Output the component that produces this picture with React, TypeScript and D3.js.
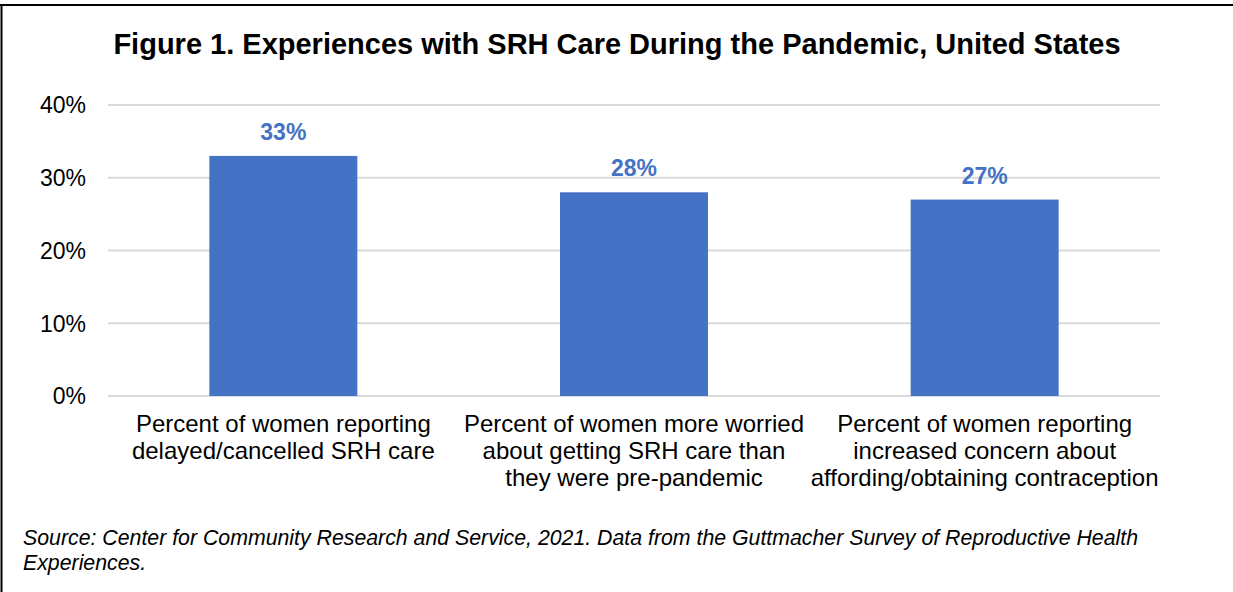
import React from 'react';
import * as d3 from 'd3';

// chart data
const categories = ['delayed', 'worried', 'contraception'];
const categoryLines = [
  ['Percent of women reporting', 'delayed/cancelled SRH care'],
  ['Percent of women more worried', 'about getting SRH care than', 'they were pre-pandemic'],
  ['Percent of women reporting', 'increased concern about', 'affording/obtaining contraception'],
];
const values = [33, 28, 27];
const yTicks = [0, 10, 20, 30, 40];

const title = 'Figure 1. Experiences with SRH Care During the Pandemic, United States';
const sourceLines = [
  'Source: Center for Community Research and Service, 2021. Data from the Guttmacher Survey of Reproductive Health',
  'Experiences.',
];

const W = 1233;
const H = 592;
const FONT = 'Arial, "Liberation Sans", sans-serif';
const BLUE = '#4472C4';

const App = () => {
  const x = d3.scaleBand<string>()
    .domain(categories)
    .range([108, 1160])
    .paddingInner(0.578)
    .paddingOuter(0.289);

  const y = d3.scaleLinear().domain([0, 40]).range([396, 105]);

  return (
    <svg
      width={W}
      height={H}
      style={{ position: 'absolute', left: 0, top: 0, background: '#fff' }}
      fontFamily={FONT}
    >
      {/* outer frame, only left and top edges visible */}
      <line x1={0} y1={5} x2={W} y2={5} stroke="#000" strokeWidth={2} />
      <line x1={1.5} y1={4} x2={1.5} y2={H} stroke="#000" strokeWidth={2} />

      <text x={617} y={54} textAnchor="middle" fontSize={29} fontWeight="bold" fill="#000">
        {title}
      </text>

      {/* gridlines and y labels */}
      {yTicks.map((t) => (
        <g key={t}>
          <line x1={108} x2={1160} y1={y(t)} y2={y(t)} stroke="#D9D9D9" strokeWidth={2} />
          <text x={86} y={y(t)} dy="0.36em" textAnchor="end" fontSize={23} fill="#000">
            {t}%
          </text>
        </g>
      ))}

      {/* bars */}
      {categories.map((c, i) => (
        <rect
          key={c}
          x={x(c)}
          y={y(values[i])}
          width={x.bandwidth()}
          height={y(0) - y(values[i])}
          fill={BLUE}
        />
      ))}

      {/* value labels */}
      {categories.map((c, i) => (
        <text
          key={c}
          x={(x(c) ?? 0) + x.bandwidth() / 2}
          y={y(values[i]) - 16}
          textAnchor="middle"
          fontSize={23}
          fontWeight="bold"
          fill={BLUE}
        >
          {values[i]}%
        </text>
      ))}

      {/* category labels */}
      {categories.map((c, i) => (
        <text
          key={c}
          x={(x(c) ?? 0) + x.bandwidth() / 2}
          textAnchor="middle"
          fontSize={24}
          fill="#000"
        >
          {categoryLines[i].map((line, j) => (
            <tspan key={j} x={(x(c) ?? 0) + x.bandwidth() / 2} y={432 + j * 27}>
              {line}
            </tspan>
          ))}
        </text>
      ))}

      {/* source note */}
      <text fontSize={21.3} fontStyle="italic" fill="#000">
        {sourceLines.map((line, j) => (
          <tspan key={j} x={23} y={545 + j * 25}>
            {line}
          </tspan>
        ))}
      </text>
    </svg>
  );
};

export default App;
